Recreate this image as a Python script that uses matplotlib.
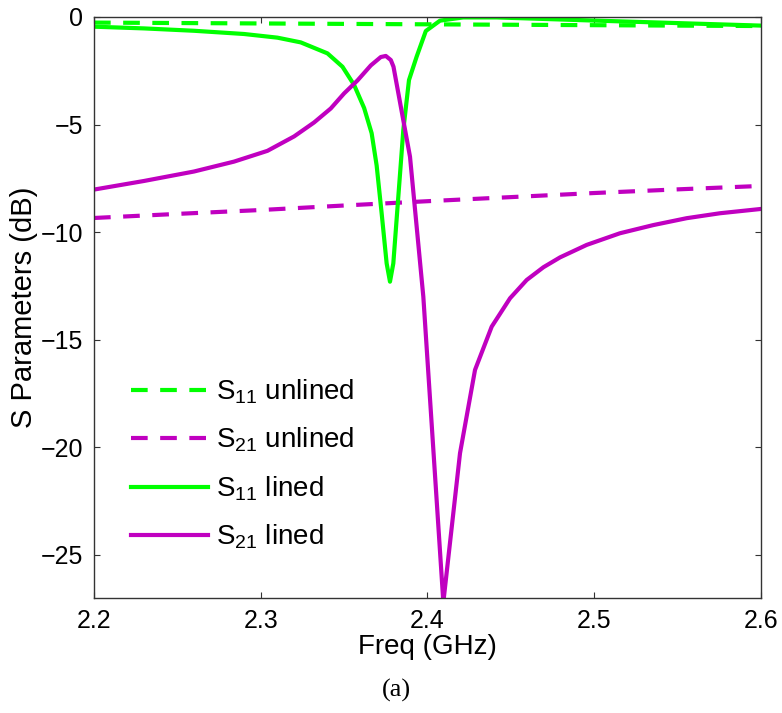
import numpy as np
import matplotlib
matplotlib.use("Agg")
import matplotlib.pyplot as plt

# S11 unlined (dashed green)
f_s11_unlined = [2.2, 2.3, 2.4, 2.5, 2.6]
s11_unlined = [-0.26, -0.30, -0.34, -0.38, -0.42]

# S21 unlined (dashed magenta)
f_s21_unlined = [2.2, 2.25, 2.3, 2.35, 2.4, 2.45, 2.5, 2.55, 2.6]
s21_unlined = [-9.34, -9.15, -8.97, -8.76, -8.56, -8.37, -8.18, -8.01, -7.85]

# S11 lined (solid green)
f_s11_lined = [2.2, 2.23, 2.26, 2.29, 2.31, 2.324, 2.34, 2.349, 2.356, 2.362,
               2.3665, 2.3695, 2.3725, 2.3755, 2.3775, 2.3795, 2.3825, 2.3855,
               2.3889, 2.3935, 2.399, 2.4075, 2.4214, 2.4415, 2.5015, 2.6]
s11_lined = [-0.45, -0.53, -0.64, -0.79, -0.96, -1.18, -1.69, -2.31, -3.16, -4.23,
             -5.40, -6.90, -9.12, -11.45, -12.30, -11.45, -8.35, -5.25,
             -2.93, -1.84, -0.65, -0.17, -0.02, -0.02, -0.17, -0.40]

# S21 lined (solid magenta)
f_s21_lined = [2.2, 2.23, 2.26, 2.284, 2.304, 2.32, 2.332, 2.342, 2.35, 2.358,
               2.366, 2.372, 2.375, 2.378, 2.3796, 2.3895, 2.3975, 2.4035,
               2.4095, 2.4195, 2.4285, 2.4385, 2.4495, 2.4595, 2.4695, 2.4795,
               2.4955, 2.5154, 2.5354, 2.5554, 2.5754, 2.6]
s21_lined = [-8.02, -7.62, -7.18, -6.72, -6.22, -5.55, -4.90, -4.25, -3.55, -2.95,
             -2.25, -1.86, -1.81, -2.00, -2.31, -6.49, -13.0, -20.1,
             -27.2, -20.27, -16.40, -14.39, -13.07, -12.22, -11.63, -11.17,
             -10.59, -10.05, -9.67, -9.35, -9.12, -8.92]

green = "#00FF00"
magenta = "#C000C0"

plt.rcParams["font.family"] = ["Liberation Sans", "DejaVu Sans"]
plt.rcParams["mathtext.fontset"] = "custom"
plt.rcParams["mathtext.rm"] = "Liberation Sans"
plt.rcParams["mathtext.it"] = "Liberation Sans"

fig = plt.figure(figsize=(7.82, 7.13), dpi=100)
ax = fig.add_axes([94 / 782, 1 - 598 / 713, 667 / 782, 581 / 713])

ax.plot(f_s11_unlined, s11_unlined, color=green, lw=3, dashes=(4, 3),
        label=r"S$_{\mathrm{11}}$ unlined")
ax.plot(f_s21_unlined, s21_unlined, color=magenta, lw=3, dashes=(4, 3),
        label=r"S$_{\mathrm{21}}$ unlined")
ax.plot(f_s11_lined, s11_lined, color=green, lw=3, label=r"S$_{\mathrm{11}}$ lined")
ax.plot(f_s21_lined, s21_lined, color=magenta, lw=3, label=r"S$_{\mathrm{21}}$ lined")

ax.set_xlim(2.2, 2.6)
ax.set_ylim(-27, 0)
ax.set_xticks([2.2, 2.3, 2.4, 2.5, 2.6])
ax.set_xticklabels(["2.2", "2.3", "2.4", "2.5", "2.6"])
ax.set_yticks([0, -5, -10, -15, -20, -25])
ax.set_yticklabels(["0", "\u22125", "\u221210", "\u221215", "\u221220", "\u221225"])

ax.tick_params(direction="in", length=4, width=0.8, top=True, right=True,
               labelsize=18, pad=8, color="#333333")
for sp in ax.spines.values():
    sp.set_linewidth(1.0)
    sp.set_color("#333333")

ax.set_xlabel("Freq (GHz)", fontsize=20, labelpad=1)
ax.set_ylabel("S Parameters (dB)", fontsize=21, labelpad=2)

ax.legend(loc="upper left", bbox_to_anchor=(0.039, 0.399), frameon=False,
          fontsize=20, handlelength=2.75, handletextpad=0.3, labelspacing=0.72,
          borderaxespad=0)

fig.text(0.507, 0.032, "(a)", ha="center", va="center", fontsize=19,
         family="Liberation Serif")

fig.savefig("out.png", dpi=100)
